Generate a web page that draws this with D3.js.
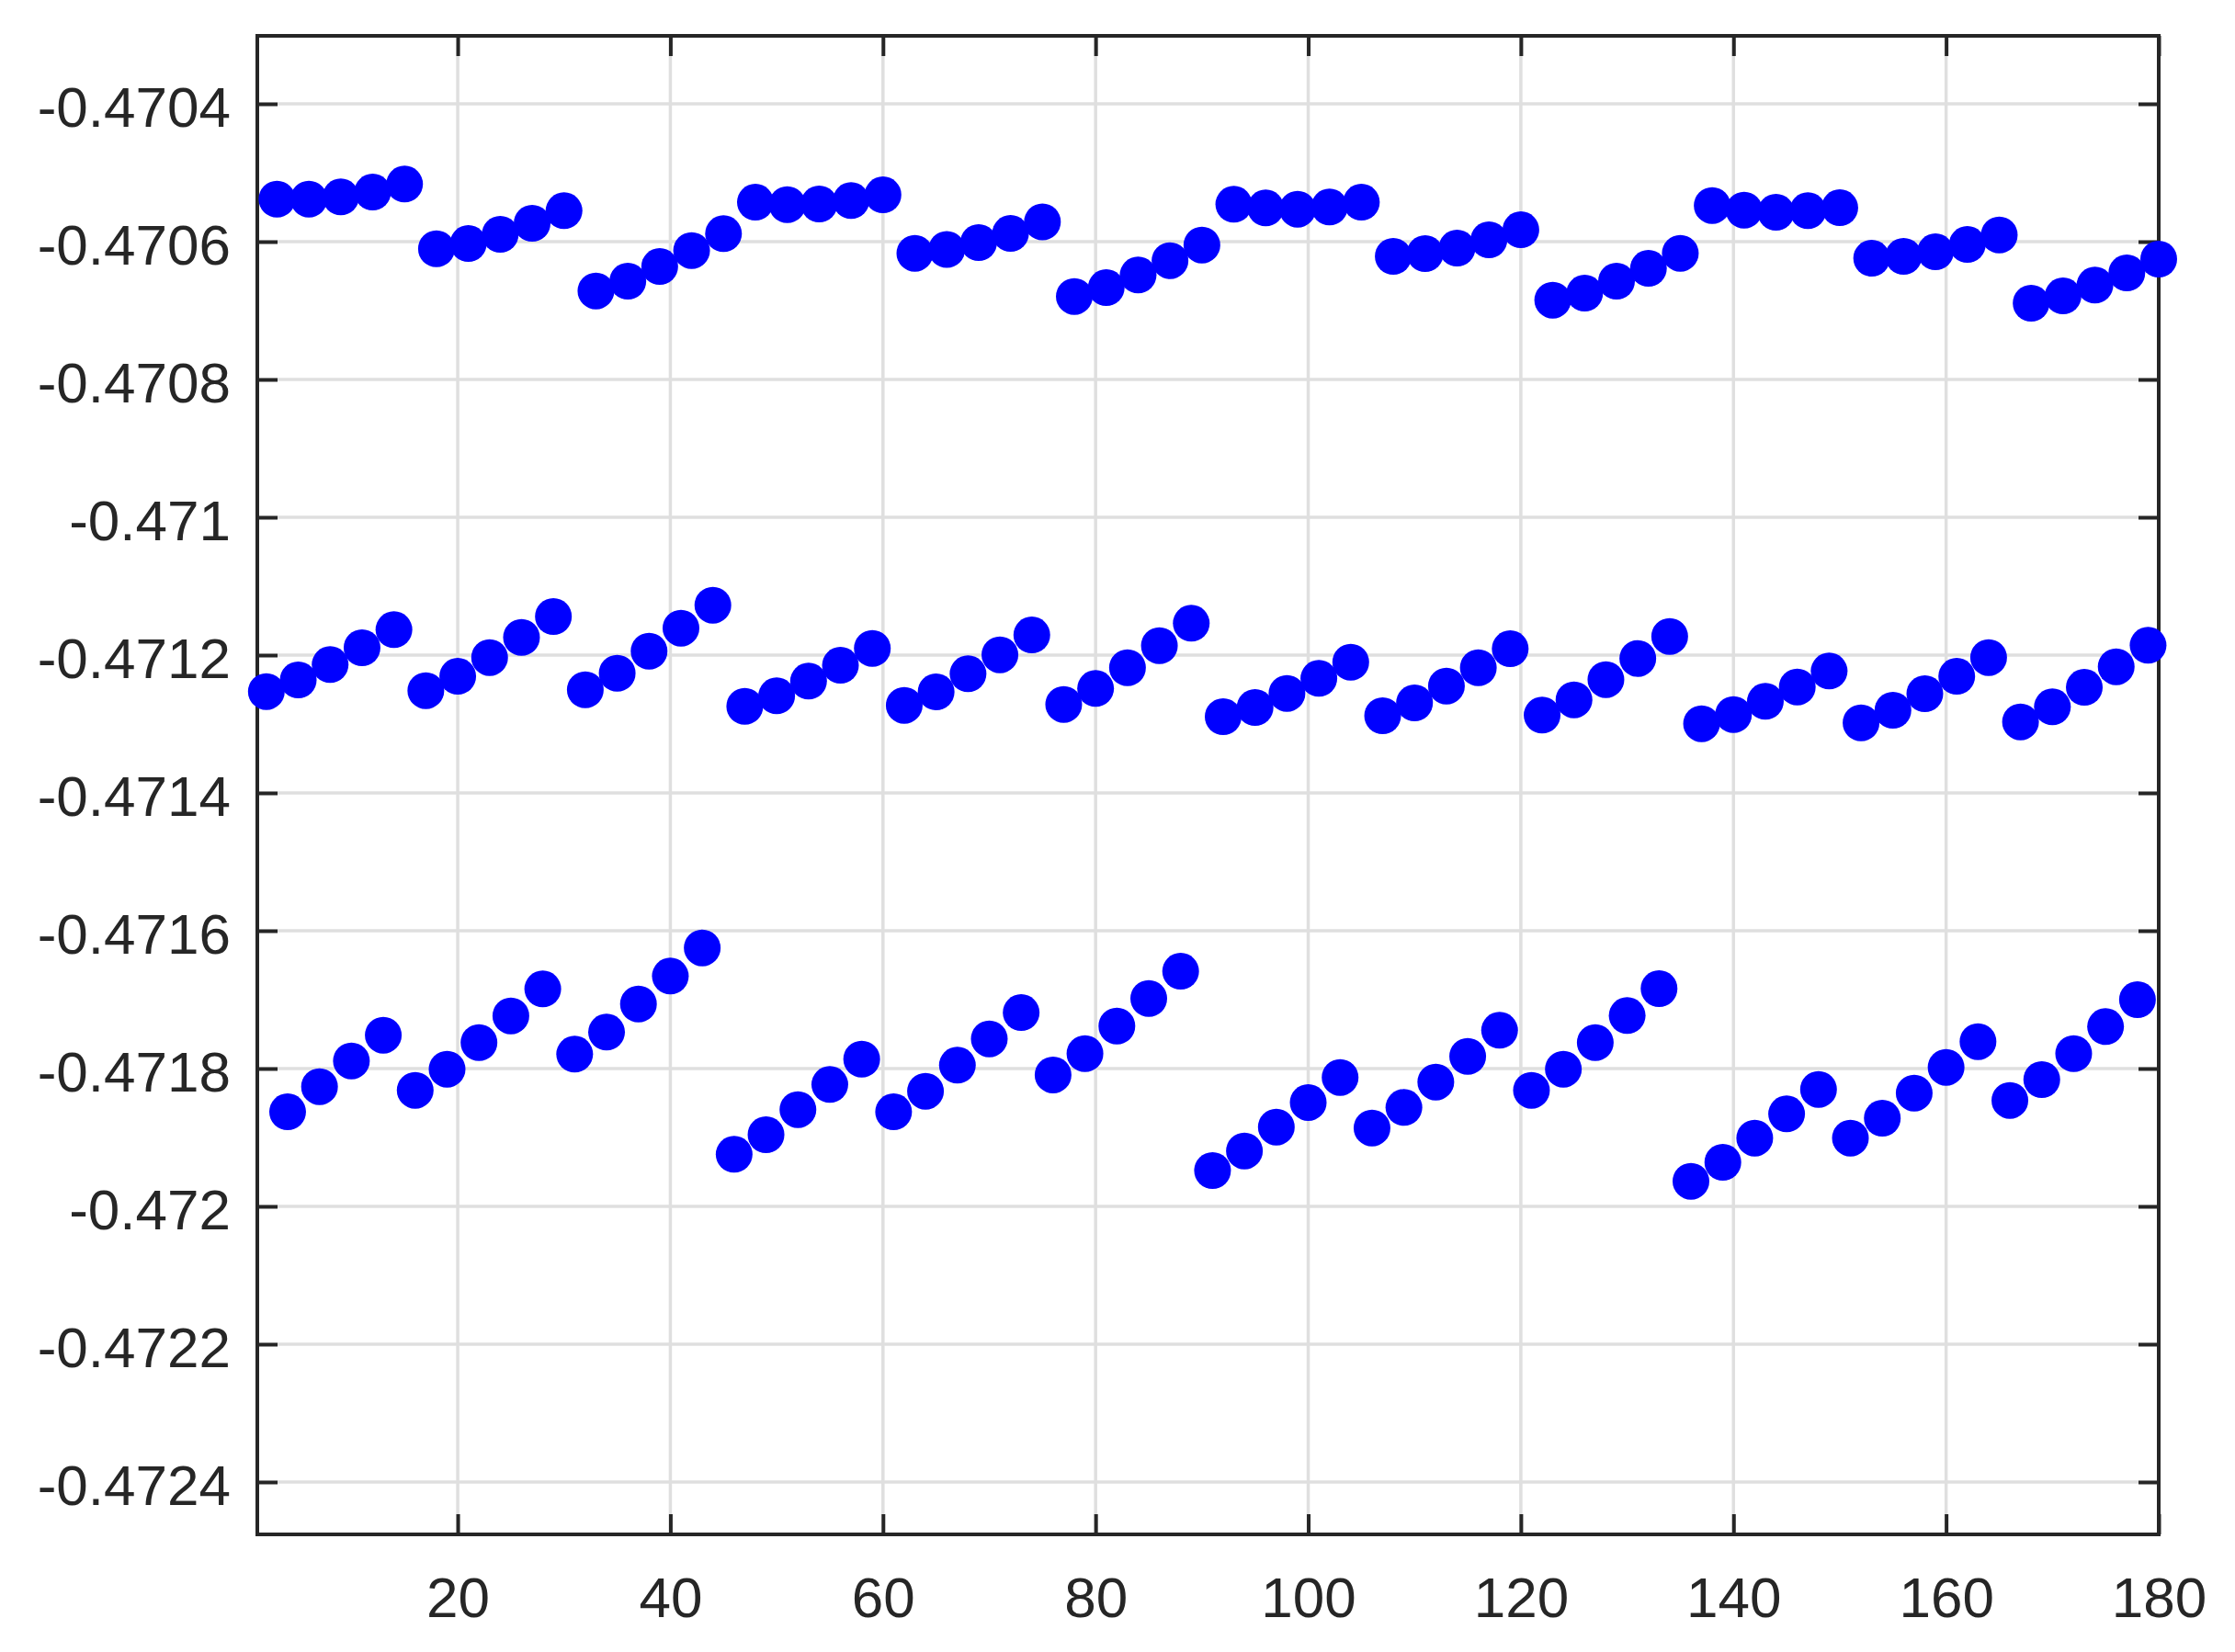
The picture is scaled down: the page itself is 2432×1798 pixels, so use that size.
<!DOCTYPE html>
<html>
<head>
<meta charset="utf-8">
<script src="https://cdn.jsdelivr.net/npm/d3@7/dist/d3.min.js"></script>
<style>
  body { margin: 0; background: #fff; }
  text { font-family: "Liberation Sans", Arial, Helvetica, sans-serif; fill: #262626; }
</style>
</head>
<body>
<div id="chart"></div>
<script>
// sample numbers: the three bands take every third sample
var xTop = d3.range(3, 181, 3);   // 3 .. 180
var xMid = d3.range(2, 180, 3);   // 2 .. 179
var xLow = d3.range(4, 179, 3);   // 4 .. 178 (sample 1 falls left of the axis)

var yTop = [
  -0.4705383, -0.4705383, -0.4705351, -0.4705280, -0.4705164,
  -0.4706103, -0.4706027, -0.4705893, -0.4705733, -0.4705551,
  -0.4706716, -0.4706573, -0.4706360, -0.4706129, -0.4705884,
  -0.4705427, -0.4705463, -0.4705453, -0.4705404, -0.4705320,
  -0.4706169, -0.4706113, -0.4706013, -0.4705880, -0.4705713,
  -0.4706796, -0.4706667, -0.4706484, -0.4706276, -0.4706049,
  -0.4705457, -0.4705511, -0.4705529, -0.4705497, -0.4705427,
  -0.4706213, -0.4706173, -0.4706093, -0.4705973, -0.4705827,
  -0.4706849, -0.4706747, -0.4706573, -0.4706387, -0.4706169,
  -0.4705476, -0.4705543, -0.4705573, -0.4705551, -0.4705507,
  -0.4706240, -0.4706213, -0.4706147, -0.4706040, -0.4705903,
  -0.4706893, -0.4706787, -0.4706631, -0.4706453, -0.4706253
];

var yMid = [
  -0.4712529, -0.4712360, -0.4712137, -0.4711893, -0.4711631,
  -0.4712516, -0.4712307, -0.4712036, -0.4711743, -0.4711440,
  -0.4712503, -0.4712263, -0.4711943, -0.4711609, -0.4711276,
  -0.4712743, -0.4712591, -0.4712377, -0.4712147, -0.4711903,
  -0.4712729, -0.4712533, -0.4712271, -0.4711996, -0.4711707,
  -0.4712716, -0.4712484, -0.4712183, -0.4711863, -0.4711537,
  -0.4712893, -0.4712760, -0.4712556, -0.4712337, -0.4712103,
  -0.4712880, -0.4712693, -0.4712449, -0.4712183, -0.4711907,
  -0.4712871, -0.4712649, -0.4712356, -0.4712049, -0.4711729,
  -0.4712996, -0.4712863, -0.4712671, -0.4712463, -0.4712231,
  -0.4712983, -0.4712800, -0.4712560, -0.4712307, -0.4712036,
  -0.4712969, -0.4712751, -0.4712467, -0.4712169, -0.4711857
];

var yLow = [
              -0.4718627, -0.4718263, -0.4717889, -0.4717516,
  -0.4718316, -0.4718009, -0.4717623, -0.4717236, -0.4716844,
  -0.4717791, -0.4717471, -0.4717063, -0.4716657, -0.4716249,
  -0.4719244, -0.4718960, -0.4718596, -0.4718231, -0.4717863,
  -0.4718627, -0.4718329, -0.4717951, -0.4717569, -0.4717187,
  -0.4718093, -0.4717783, -0.4717383, -0.4716983, -0.4716587,
  -0.4719480, -0.4719196, -0.4718849, -0.4718493, -0.4718129,
  -0.4718863, -0.4718564, -0.4718196, -0.4717823, -0.4717444,
  -0.4718316, -0.4718009, -0.4717623, -0.4717231, -0.4716840,
  -0.4719636, -0.4719360, -0.4719009, -0.4718657, -0.4718303,
  -0.4719009, -0.4718720, -0.4718356, -0.4717983, -0.4717609,
  -0.4718463, -0.4718160, -0.4717783, -0.4717391, -0.4717000
];

var xTicks = [20, 40, 60, 80, 100, 120, 140, 160, 180];
var yTicks = [-0.4704, -0.4706, -0.4708, -0.471, -0.4712, -0.4714,
              -0.4716, -0.4718, -0.472, -0.4722, -0.4724];
var xDomain = [1.15, 180];
var yDomain = [-0.472476, -0.4703013];

var width = 2432, height = 1798;
var margin = {top: 39, right: 83, bottom: 128, left: 280};
var x0 = margin.left, x1 = width - margin.right;
var y0 = height - margin.bottom, y1 = margin.top;

var x = d3.scaleLinear().domain(xDomain).range([x0, x1]);
var y = d3.scaleLinear().domain(yDomain).range([y0, y1]);

var points = []
  .concat(xTop.map(function (d, i) { return {x: d, y: yTop[i]}; }))
  .concat(xMid.map(function (d, i) { return {x: d, y: yMid[i]}; }))
  .concat(xLow.map(function (d, i) { return {x: d, y: yLow[i]}; }));

var svg = d3.select('#chart')
  .append('svg')
    .attr('width', width)
    .attr('height', height);

svg.append('rect')
  .attr('width', width)
  .attr('height', height)
  .style('fill', '#fff');

// grid
var grid = svg.append('g').attr('class', 'grid')
  .style('stroke', '#dfdfdf')
  .style('stroke-width', 3.5);

grid.selectAll('line.gx')
  .data(xTicks)
  .enter().append('line')
    .attr('x1', function (d) { return x(d); })
    .attr('x2', function (d) { return x(d); })
    .attr('y1', y0)
    .attr('y2', y1);

grid.selectAll('line.gy')
  .data(yTicks)
  .enter().append('line')
    .attr('x1', x0)
    .attr('x2', x1)
    .attr('y1', function (d) { return y(d); })
    .attr('y2', function (d) { return y(d); });

// axes (ticks inside, mirrored on top and right)
var tickLen = 22;
var fmtY = function (d) { return String(+d.toFixed(4)); };

svg.append('g')
    .attr('transform', 'translate(0,' + y0 + ')')
    .call(d3.axisBottom(x).tickValues(xTicks).tickSizeInner(-tickLen).tickSizeOuter(0).tickPadding(90))
    .call(styleAxis)
    .selectAll('text').attr('dy', 0);

svg.append('g')
    .attr('transform', 'translate(0,' + y1 + ')')
    .call(d3.axisTop(x).tickValues(xTicks).tickSizeInner(-tickLen).tickSizeOuter(0).tickFormat(''))
    .call(styleAxis);

svg.append('g')
    .attr('transform', 'translate(' + x0 + ',0)')
    .call(d3.axisLeft(y).tickValues(yTicks).tickSizeInner(-tickLen).tickSizeOuter(0).tickPadding(29).tickFormat(fmtY))
    .call(styleAxis)
    .selectAll('text').attr('dy', '0.4em');

svg.append('g')
    .attr('transform', 'translate(' + x1 + ',0)')
    .call(d3.axisRight(y).tickValues(yTicks).tickSizeInner(-tickLen).tickSizeOuter(0).tickFormat(''))
    .call(styleAxis);

svg.append('rect')
  .attr('x', x0)
  .attr('y', y1)
  .attr('width', x1 - x0)
  .attr('height', y0 - y1)
  .style('fill', 'none')
  .style('stroke', '#262626')
  .style('stroke-width', 4);

function styleAxis(g) {
  g.select('.domain').remove();
  g.selectAll('.tick line')
    .style('stroke', '#262626')
    .style('stroke-width', 4);
  g.selectAll('.tick text')
    .style('font-size', '62px')
    .style('fill', '#262626');
}

// markers
svg.append('g')
  .selectAll('circle.pt')
  .data(points)
  .enter().append('circle')
    .classed('pt', true)
    .attr('cx', function (d) { return x(d.x); })
    .attr('cy', function (d) { return y(d.y); })
    .attr('r', 20)
    .style('fill', '#0000ff');
</script>
</body>
</html>
